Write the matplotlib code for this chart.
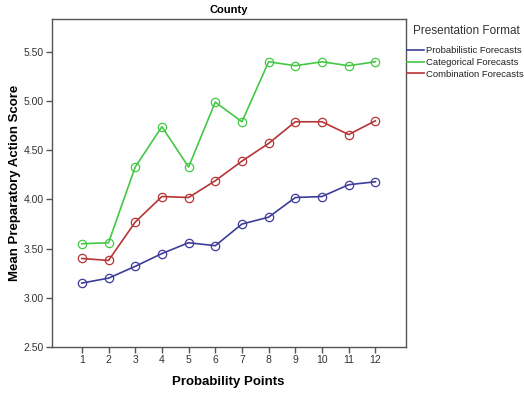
import matplotlib
matplotlib.use("Agg")
import matplotlib.pyplot as plt

plt.rcParams['font.family'] = ['Liberation Sans', 'DejaVu Sans']

points = [1, 2, 3, 4, 5, 6, 7, 8, 9, 10, 11, 12]
probabilistic = [3.15, 3.20, 3.32, 3.45, 3.56, 3.53, 3.75, 3.82, 4.02, 4.03, 4.15, 4.18]
categorical = [3.55, 3.56, 4.33, 4.74, 4.33, 4.99, 4.79, 5.40, 5.36, 5.40, 5.36, 5.40]
combination = [3.40, 3.38, 3.77, 4.03, 4.02, 4.19, 4.39, 4.57, 4.79, 4.79, 4.66, 4.80]
series_names = ["Probabilistic Forecasts", "Categorical Forecasts", "Combination Forecasts"]
y_ticks = [2.50, 3.00, 3.50, 4.00, 4.50, 5.00, 5.50]

colors = ["#3d3d99", "#45c845", "#b83434"]

W, H = 524, 396
fig = plt.figure(figsize=(W / 100, H / 100), dpi=100)
ax = fig.add_axes([51.7 / W, 1 - 347 / H, (405.5 - 51.7) / W, (347 - 19) / H])

for vals, name, c in zip([probabilistic, categorical, combination], series_names, colors):
    ax.plot(points, vals, color=c, lw=1.2, marker='o', markersize=6,
            markerfacecolor='none', markeredgecolor=c, markeredgewidth=0.9, label=name)

ax.set_xlim(-0.13, 13.13)
ax.set_ylim(2.5, 5.835)
ax.set_xticks(points)
ax.set_xticklabels([str(p) for p in points])
ax.set_yticks(y_ticks)
ax.set_yticklabels([f"{v:.2f}" for v in y_ticks])
for s in ax.spines.values():
    s.set_color('#555555')
    s.set_linewidth(1.0)
ax.tick_params(axis='both', direction='out', length=4, width=1, color='#555555',
               labelsize=7.5, labelcolor='#333333', pad=1.5)

ax.set_title("County", fontsize=8, fontweight='bold', pad=4)
ax.set_xlabel("Probability Points", fontsize=9.5, fontweight='bold', labelpad=8)
ax.set_ylabel("Mean Preparatory Action Score", fontsize=9.5, fontweight='bold')
ax.yaxis.set_label_coords((21 - 51.7) / 353.8, 0.5)

fig.text(466 / W, 1 - 31 / H, "Presentation Format", fontsize=8.5, color='#333333',
         ha='center', va='center')
leg = ax.legend(loc='upper left', bbox_to_anchor=((407 - 51.7) / 353.8, (347 - 46) / 328),
                frameon=False, fontsize=6.8, handlelength=1.8, handletextpad=0.25,
                labelspacing=0.3, borderaxespad=0.0, borderpad=0.0)
for h in leg.legend_handles:
    h.set_marker('')
for t in leg.get_texts():
    t.set_color('#222222')

fig.savefig("out.png", dpi=100)
